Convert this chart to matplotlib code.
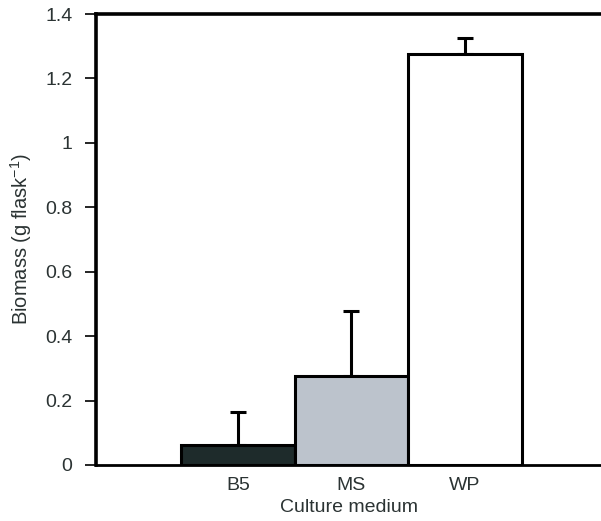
import matplotlib
matplotlib.use("Agg")
import matplotlib.pyplot as plt
import numpy as np

plt.rcParams['font.family'] = ['Liberation Sans', 'DejaVu Sans']
plt.rcParams['mathtext.default'] = 'regular'

media = ['B5', 'MS', 'WP']
biomass = [0.063, 0.275, 1.277]
biomass_err = [0.100, 0.203, 0.050]
bar_colors = ['#1e2b2b', '#bcc3cc', '#ffffff']
text_color = '#2b3333'

fig = plt.figure(figsize=(6.01, 5.21), dpi=100)
ax = fig.add_axes([0.16, 0.1075, 0.84, 0.8655])

x = np.arange(len(media))
ax.bar(x, biomass, width=1.0, color=bar_colors, edgecolor='black', linewidth=2.2, zorder=2)
# upper error bars only
ax.errorbar(x, biomass, yerr=[np.zeros(len(x)), biomass_err], fmt='none',
            ecolor='black', elinewidth=2.2, capsize=6, capthick=2.2, zorder=1)

ax.set_xlim(-1.25, 3.2)
ax.set_ylim(0, 1.4)
ax.set_yticks(np.arange(0, 1.41, 0.2))
ax.set_yticklabels(['0', '0.2', '0.4', '0.6', '0.8', '1', '1.2', '1.4'])
ax.set_xticks(x)
ax.set_xticklabels(media)

ax.spines['right'].set_visible(False)
ax.spines['left'].set_linewidth(2.6)
ax.spines['top'].set_linewidth(2.6)
ax.spines['bottom'].set_linewidth(2.0)

ax.tick_params(axis='y', direction='out', length=8, width=1.2, pad=9,
               labelsize=14, labelcolor=text_color)
ax.tick_params(axis='x', length=0, pad=9, labelsize=14, labelcolor=text_color)

ax.set_ylabel('Biomass (g flask$^{-1}$)', fontsize=14.5, color=text_color, labelpad=8)
ax.set_xlabel('Culture medium', fontsize=14, color=text_color, labelpad=3)

fig.savefig('out.png', dpi=100)
